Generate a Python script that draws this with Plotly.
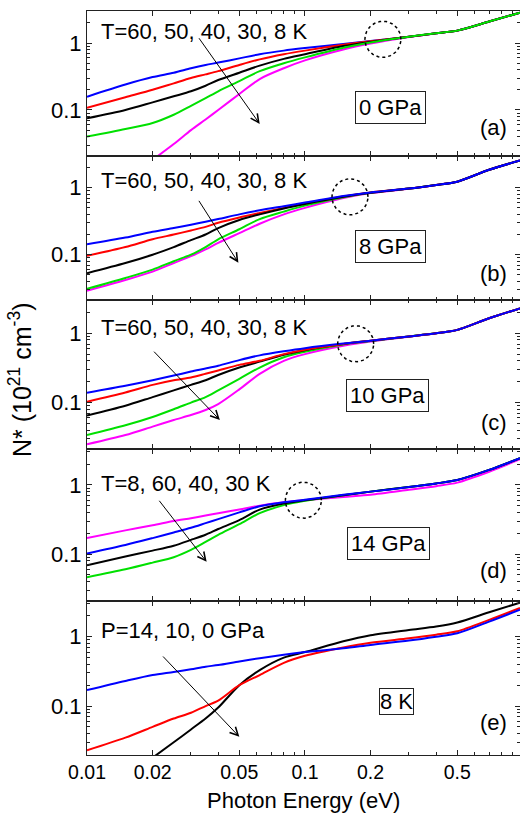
import math
import plotly.graph_objects as go

# ---------------- data ----------------
E = [0.01, 0.015, 0.02, 0.025, 0.03, 0.035, 0.04, 0.05, 0.062, 0.08, 0.1, 0.15, 0.2,
     0.3, 0.4, 0.5, 0.7, 0.97]

# (a) 0 GPa
A_T60 = [0.158, 0.24, 0.31, 0.36, 0.42, 0.47, 0.51, 0.59, 0.68, 0.77, 0.84, 0.97, 1.07, 1.24, 1.40, 1.53, 2.09, 2.84]
A_T50 = [0.108, 0.155, 0.2, 0.25, 0.3, 0.34, 0.38, 0.47, 0.57, 0.68, 0.77, 0.94, 1.06, 1.24, 1.40, 1.53, 2.09, 2.84]
A_T40 = [0.075, 0.1, 0.13, 0.16, 0.19, 0.23, 0.28, 0.36, 0.46, 0.58, 0.68, 0.9, 1.04, 1.24, 1.40, 1.53, 2.09, 2.84]
A_T30 = [0.040, 0.052, 0.064, 0.085, 0.115, 0.15, 0.19, 0.27, 0.38, 0.5, 0.61, 0.85, 1.02, 1.24, 1.40, 1.53, 2.09, 2.84]
A_T8 = [None, None, 0.018, 0.031, 0.05, 0.072, 0.1, 0.173, 0.29, 0.42, 0.55, 0.8, 0.98, 1.23, 1.40, 1.53, 2.09, 2.84]

# (b) 8 GPa
B_T60 = [0.143, 0.18, 0.22, 0.25, 0.28, 0.31, 0.34, 0.4, 0.46, 0.53, 0.6, 0.75, 0.85, 0.97, 1.1, 1.23, 1.85, 2.55]
B_T50 = [0.096, 0.13, 0.17, 0.2, 0.23, 0.26, 0.3, 0.36, 0.42, 0.5, 0.58, 0.74, 0.85, 0.97, 1.1, 1.23, 1.85, 2.55]
B_T40 = [0.053, 0.075, 0.1, 0.13, 0.165, 0.2, 0.25, 0.33, 0.4, 0.49, 0.57, 0.73, 0.84, 0.97, 1.1, 1.23, 1.85, 2.55]
B_T30 = [0.031, 0.045, 0.06, 0.08, 0.1, 0.13, 0.17, 0.24, 0.34, 0.44, 0.54, 0.72, 0.84, 0.97, 1.1, 1.23, 1.85, 2.55]
B_T8 = [0.029, 0.042, 0.056, 0.075, 0.095, 0.12, 0.15, 0.21, 0.29, 0.4, 0.5, 0.7, 0.83, 0.96, 1.1, 1.23, 1.85, 2.55]

# (c) 10 GPa
C_T60 = [0.139, 0.175, 0.21, 0.245, 0.28, 0.31, 0.34, 0.41, 0.48, 0.55, 0.61, 0.71, 0.78, 0.9, 1.0, 1.12, 1.65, 2.29]
C_T50 = [0.103, 0.14, 0.18, 0.21, 0.23, 0.26, 0.29, 0.35, 0.40, 0.5, 0.58, 0.7, 0.78, 0.9, 1.0, 1.12, 1.65, 2.29]
C_T40 = [0.065, 0.09, 0.12, 0.15, 0.18, 0.21, 0.25, 0.32, 0.39, 0.49, 0.57, 0.7, 0.78, 0.9, 1.0, 1.12, 1.65, 2.29]
C_T30 = [0.034, 0.047, 0.062, 0.08, 0.1, 0.12, 0.15, 0.22, 0.32, 0.45, 0.54, 0.69, 0.77, 0.9, 1.0, 1.12, 1.65, 2.29]
C_T8 = [0.025, 0.034, 0.045, 0.056, 0.066, 0.078, 0.095, 0.155, 0.26, 0.4, 0.5, 0.66, 0.76, 0.89, 1.0, 1.12, 1.65, 2.29]

# (d) 14 GPa
D_T8 = [0.17, 0.22, 0.26, 0.3, 0.33, 0.36, 0.39, 0.44, 0.5, 0.56, 0.6, 0.67, 0.72, 0.85, 0.96, 1.08, 1.55, 2.35]
D_T60 = [0.102, 0.135, 0.17, 0.205, 0.24, 0.28, 0.32, 0.4, 0.49, 0.56, 0.61, 0.72, 0.8, 0.93, 1.05, 1.18, 1.65, 2.44]
D_T40 = [0.069, 0.092, 0.112, 0.132, 0.16, 0.19, 0.23, 0.31, 0.44, 0.54, 0.6, 0.71, 0.8, 0.93, 1.05, 1.18, 1.65, 2.44]
D_T30 = [0.046, 0.06, 0.075, 0.09, 0.115, 0.15, 0.19, 0.27, 0.39, 0.51, 0.59, 0.71, 0.8, 0.93, 1.05, 1.18, 1.65, 2.44]

# (e) 8 K
E_P14 = [0.17, 0.23, 0.28, 0.31, 0.34, 0.37, 0.39, 0.44, 0.49, 0.55, 0.6, 0.68, 0.76, 0.88, 1.0, 1.12, 1.65, 2.45]
E_P10 = [0.023, 0.035, 0.05, 0.066, 0.08, 0.1, 0.12, 0.2, 0.28, 0.42, 0.53, 0.7, 0.82, 0.95, 1.07, 1.2, 1.75, 2.6]
E_P0 = [None, None, 0.018, 0.03, 0.046, 0.066, 0.095, 0.2, 0.33, 0.5, 0.6, 0.86, 1.05, 1.25, 1.4, 1.6, 2.25, 3.1]

X_TICKS = [0.01, 0.02, 0.05, 0.1, 0.2, 0.5]
X_TICKTEXT = ["0.01", "0.02", "0.05", "0.1", "0.2", "0.5"]
X_MINOR = [0.03, 0.04, 0.06, 0.07, 0.08, 0.09, 0.3, 0.4, 0.6, 0.7, 0.8, 0.9]
Y_TICKS = [0.1, 1]
Y_TICKTEXT = ["0.1", "1"]
Y_MINOR = [0.02, 0.03, 0.04, 0.05, 0.06, 0.07, 0.08, 0.09, 0.2, 0.3, 0.4, 0.5, 0.6, 0.7, 0.8, 0.9, 2, 3]

BLUE, RED, BLACK, GREEN, MAG = "#0000ff", "#ff0000", "#000000", "#00e000", "#ff00ff"

panels = [
    ([(A_T8, MAG), (A_T60, BLUE), (A_T50, RED), (A_T40, BLACK), (A_T30, GREEN)],
     "T=60, 50, 40, 30, 8 K", "0 GPa", "(a)"),
    ([(B_T8, MAG), (B_T30, GREEN), (B_T50, RED), (B_T40, BLACK), (B_T60, BLUE)],
     "T=60, 50, 40, 30, 8 K", "8 GPa", "(b)"),
    ([(C_T8, MAG), (C_T30, GREEN), (C_T40, BLACK), (C_T50, RED), (C_T60, BLUE)],
     "T=60, 50, 40, 30, 8 K", "10 GPa", "(c)"),
    ([(D_T8, MAG), (D_T30, GREEN), (D_T40, BLACK), (D_T60, BLUE)],
     "T=8, 60, 40, 30 K", "14 GPa", "(d)"),
    ([(E_P0, BLACK), (E_P10, RED), (E_P14, BLUE)],
     "P=14, 10, 0 GPa", "8 K", "(e)"),
]

# ---------------- layout geometry (pixels) ----------------
W, H = 520, 816
ML, MR, MT, MB = 87, 0, 11, 61
PW, PH = W - ML - MR, H - MT - MB
bounds = [11, 156, 300, 449, 601, 755]
y_ranges = [(-1.687, 0.478), (-1.676, 0.473), (-1.67, 0.48), (-1.68, 0.52), (-1.706, 0.515)]
X_RANGE = [-2, math.log10(0.97)]


def px(x):
    return (x - ML) / PW


def py(y):
    return (MT + PH - y) / PH


FONT = "Arial, Liberation Sans, sans-serif"
fig = go.Figure()
layout = dict(width=W, height=H, margin=dict(l=ML, r=MR, t=MT, b=MB),
              paper_bgcolor="white", plot_bgcolor="white", showlegend=False,
              font=dict(family=FONT, color="black"))

annotations = []

text_y = [32, 180, 328, 483, 630]
box_c = [(390.8, 107.7), (390.5, 246.7), (387.5, 395.7), (388.3, 543), (396.7, 701.7)]
tag_y = [127.7, 273, 422, 570, 722.5]
arrows = [((0.0323, 1.24), (0.062, 0.062)),
          ((0.0323, 0.67), (0.0495, 0.076)),
          ((0.020, 0.57), (0.0407, 0.056)),
          ((0.0212, 0.62), (0.0354, 0.077)),
          ((0.022, 0.545), (0.050, 0.036))]
circles = [(0.228, 1.135), (0.161, 0.73), (0.171, 0.705), (0.0984, 0.60), None]
R_PX = 18
N_CIRC = 73

for i, (series, tlabel, blabel, tag) in enumerate(panels):
    k = i + 1
    xa = "x" if k == 1 else f"x{k}"
    ya = "y" if k == 1 else f"y{k}"
    for vals, col in series:
        fig.add_trace(go.Scatter(x=E, y=vals, mode="lines",
                                 line=dict(color=col, width=2, shape="spline", smoothing=0.8),
                                 xaxis=xa, yaxis=ya, connectgaps=False, hoverinfo="skip"))
    top, bot = bounds[i], bounds[i + 1]
    if circles[i] is not None:
        ce, cn = circles[i]
        dx = R_PX * (X_RANGE[1] - X_RANGE[0]) / PW
        dy = R_PX * (y_ranges[i][1] - y_ranges[i][0]) / (bot - top)
        lx, ly = math.log10(ce), math.log10(cn)
        ts = [2 * math.pi * j / (N_CIRC - 1) for j in range(N_CIRC)]
        cx = [10 ** (lx + dx * math.cos(t)) for t in ts]
        cy = [10 ** (ly + dy * math.sin(t)) for t in ts]
        fig.add_trace(go.Scatter(x=cx, y=cy, mode="lines",
                                 line=dict(color="black", width=1.5, dash="dot"),
                                 xaxis=xa, yaxis=ya, hoverinfo="skip"))
    dom = [py(bot), py(top)]
    layout[f"xaxis{k}"] = dict(
        type="log", range=X_RANGE, domain=[0, 1], anchor=ya,
        showline=True, linecolor="#222", linewidth=1, mirror="allticks",
        ticks="inside", ticklen=5, tickcolor="#222",
        tickvals=X_TICKS, ticktext=X_TICKTEXT, showticklabels=(k == 5),
        tickfont=dict(size=19.5), showgrid=False, zeroline=False,
        minor=dict(ticks="inside", ticklen=3, tickcolor="#222", tickvals=X_MINOR, showgrid=False),
    )
    layout[f"yaxis{k}"] = dict(
        type="log", range=list(y_ranges[i]), domain=dom, anchor=xa,
        showline=True, linecolor="#222", linewidth=1, mirror="allticks",
        ticks="inside", ticklen=5, tickcolor="#222",
        tickvals=Y_TICKS, ticktext=Y_TICKTEXT, tickfont=dict(size=22),
        showgrid=False, zeroline=False,
        minor=dict(ticks="inside", ticklen=3, tickcolor="#222", tickvals=Y_MINOR, showgrid=False),
    )
    annotations.append(dict(xref="paper", yref="paper", x=px(99), y=py(text_y[i]),
                            xanchor="left", yanchor="middle", text=tlabel, showarrow=False,
                            font=dict(size=22)))
    bx, by = box_c[i]
    annotations.append(dict(xref="paper", yref="paper", x=px(bx), y=py(by),
                            xanchor="center", yanchor="middle", text=blabel, showarrow=False,
                            font=dict(size=22), bordercolor="#222", borderwidth=1,
                            borderpad=(3 if k < 5 else 0), bgcolor="white"))
    annotations.append(dict(xref="paper", yref="paper", x=px(509), y=py(tag_y[i]),
                            xanchor="right", yanchor="middle", text=tag, showarrow=False,
                            font=dict(size=22)))
    (ex0, ny0), (ex1, ny1) = arrows[i]
    annotations.append(dict(xref=xa, yref=ya, axref=xa, ayref=ya,
                            x=math.log10(ex1), y=math.log10(ny1),
                            ax=math.log10(ex0), ay=math.log10(ny0),
                            text="", showarrow=True, arrowhead=5, arrowsize=1.6,
                            arrowwidth=1, arrowcolor="black"))

annotations.append(dict(xref="paper", yref="paper", x=0.5, y=py(800), xanchor="center",
                        yanchor="middle", text="Photon Energy (eV)", showarrow=False,
                        font=dict(size=22)))
annotations.append(dict(xref="paper", yref="paper", x=px(20), y=py(380), xanchor="center",
                        yanchor="middle", textangle=-90,
                        text="N* (10<sup>21</sup> cm<sup>-3</sup>)", showarrow=False,
                        font=dict(size=25)))

layout["annotations"] = annotations
fig.update_layout(**layout)
fig.write_html("out.html")
